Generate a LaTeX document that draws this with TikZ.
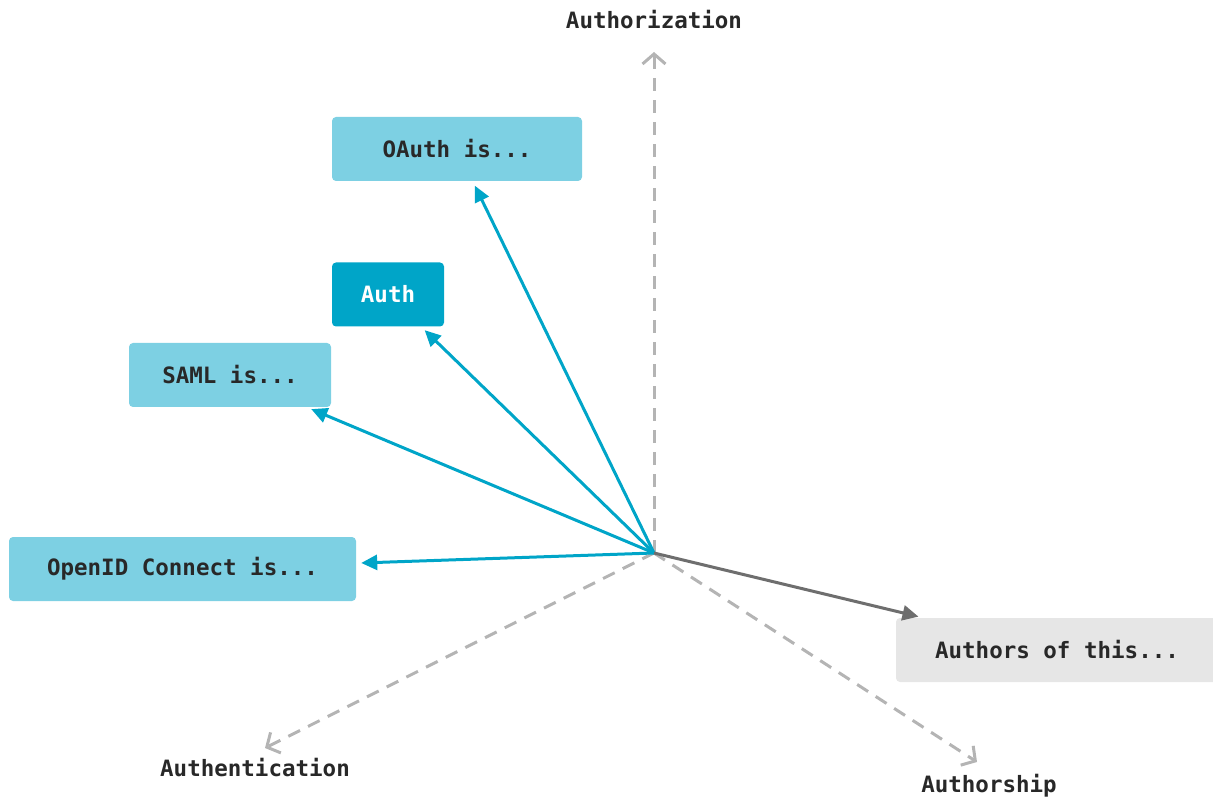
\documentclass[tikz,border=0pt]{standalone}
\usepackage{fontspec}
\setmonofont{DejaVu Sans Mono}
\usetikzlibrary{arrows.meta}
\definecolor{lcyan}{RGB}{125,208,227}
\definecolor{dcyan}{RGB}{0,165,200}
\definecolor{txt}{RGB}{40,40,40}
\definecolor{gfill}{RGB}{230,230,230}
\definecolor{axisgray}{RGB}{180,180,180}
\definecolor{dgray}{RGB}{110,110,110}
\begin{document}
\begin{tikzpicture}[x=1pt,y=-1pt,
  every node/.style={font=\fontsize{22.5}{26}\selectfont\ttfamily\bfseries, text=txt},
  box/.style={rounded corners=4pt, minimum height=64pt, inner sep=0pt},
  lbox/.style={box, fill=lcyan},
  dbox/.style={box, fill=dcyan, text=white},
  gbox/.style={box, fill=gfill},
  axisline/.style={draw=axisgray, line width=3pt, dash pattern=on 13pt off 9pt,
    -{Straight Barb[length=10pt,width=23pt,line width=3pt]}},
  bluearrow/.style={draw=dcyan, line width=3pt, shorten >=5pt,
    -{Triangle[length=16pt,width=15pt]}},
  grayarrow/.style={draw=dgray, line width=3pt, shorten >=5pt,
    -{Triangle[length=16pt,width=15pt]}}]
\useasboundingbox (0,0) rectangle (1213,799);
\coordinate (O) at (654,553);
\coordinate (az) at (654,52);
\coordinate (an) at (265,748);
\coordinate (as) at (977,762);
\node (lz) at (654,20) {Authorization};
\node (ln) at (255,768) {Authentication};
\node (ls) at (989,786) {Authorship};
\node[lbox, minimum width=250pt] (oauth) at (457,149) {OAuth is...};
\node[dbox, minimum width=112pt] (auth) at (388,294.5) {Auth};
\node[lbox, minimum width=202pt] (saml) at (230,375) {SAML is...};
\node[lbox, minimum width=347pt] (oidc) at (182.5,569) {OpenID Connect is...};
\node[gbox, minimum width=322pt] (authors) at (1057,650) {Authors of this...};
\draw[axisline] (O) -- (az);
\draw[axisline] (O) -- (an);
\draw[axisline] (O) -- (as);
\draw[bluearrow] (O) -- (oauth);
\draw[bluearrow] (O) -- (auth);
\draw[bluearrow] (O) -- (saml);
\draw[bluearrow] (O) -- (oidc);
\draw[grayarrow] (O) -- (authors);
\end{tikzpicture}
\end{document}
